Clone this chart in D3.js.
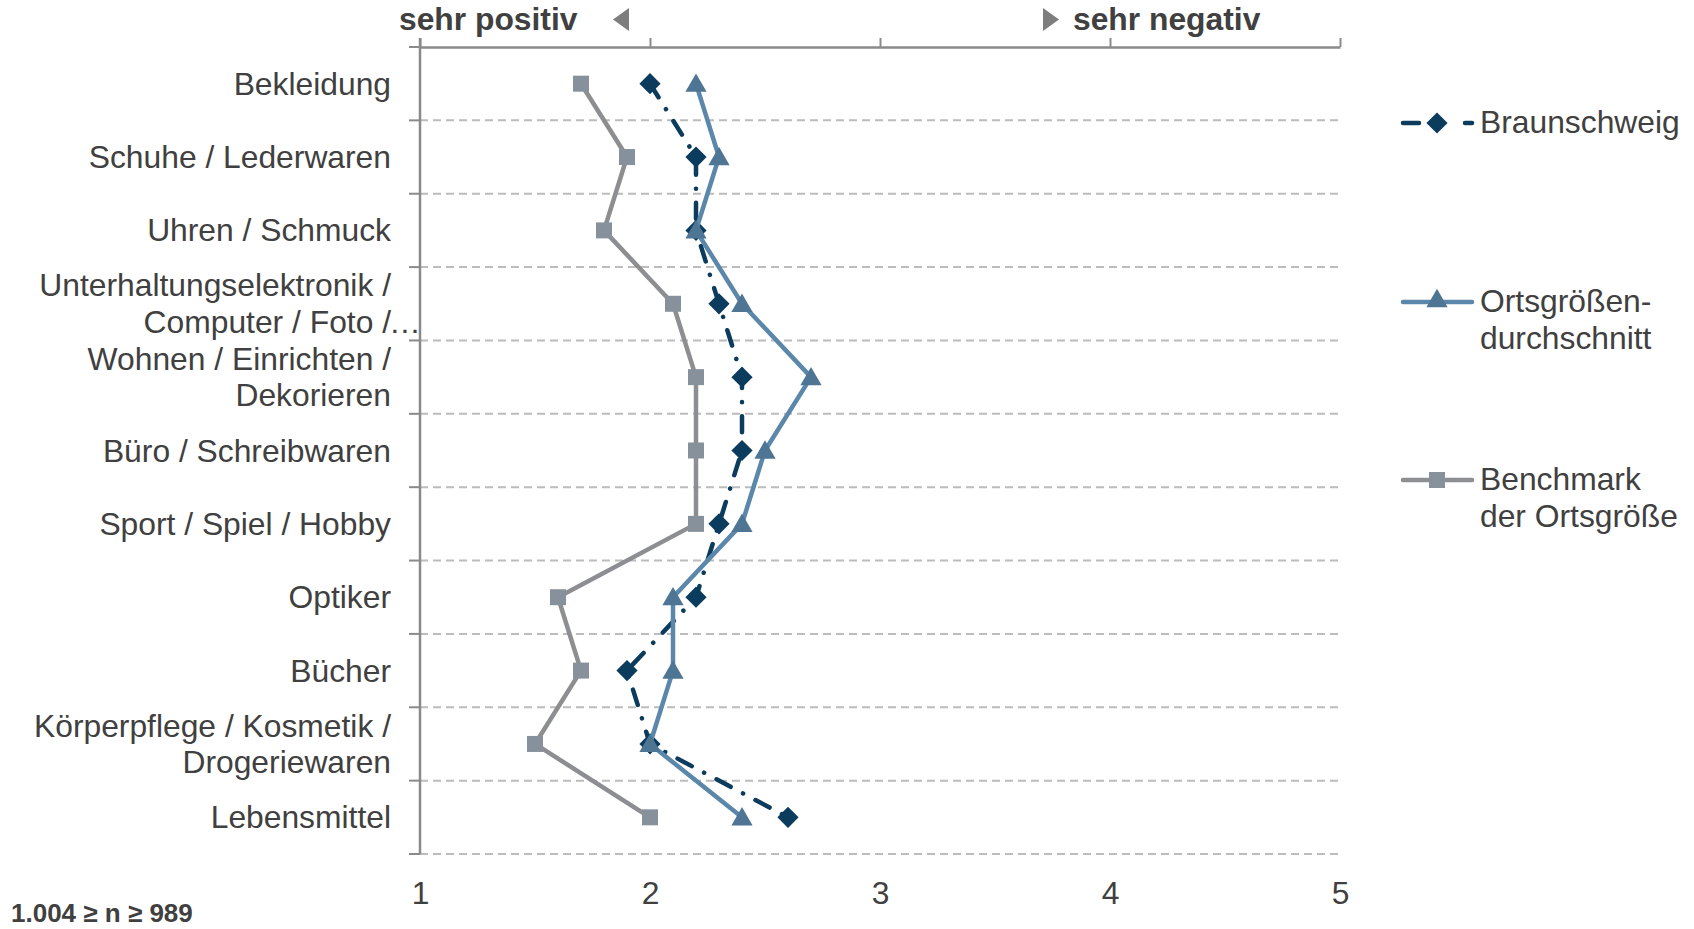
<!DOCTYPE html>
<html><head><meta charset="utf-8">
<script src="https://cdn.jsdelivr.net/npm/d3@7"></script>
<style>
html,body{margin:0;padding:0;background:#fff;}
svg text{font-family:"Liberation Sans",Arial,sans-serif;fill:#404040;}
</style></head>
<body>
<svg id="chart" width="1694" height="929"></svg>
<script>
const categories = [
  ["Bekleidung"],
  ["Schuhe / Lederwaren"],
  ["Uhren / Schmuck"],
  ["Unterhaltungselektronik /", "Computer / Foto /…"],
  ["Wohnen / Einrichten /", "Dekorieren"],
  ["Büro / Schreibwaren"],
  ["Sport / Spiel / Hobby"],
  ["Optiker"],
  ["Bücher"],
  ["Körperpflege / Kosmetik /", "Drogeriewaren"],
  ["Lebensmittel"]
];
const braunschweig   = [2.0, 2.2, 2.2, 2.3, 2.4, 2.4, 2.3, 2.2, 1.9, 2.0, 2.6];
const ortsgroesse    = [2.2, 2.3, 2.2, 2.4, 2.7, 2.5, 2.4, 2.1, 2.1, 2.0, 2.4];
const benchmark      = [1.7, 1.9, 1.8, 2.1, 2.2, 2.2, 2.2, 1.6, 1.7, 1.5, 2.0];
const xTicks = [1, 2, 3, 4, 5];
const seriesNames = [["Braunschweig"], ["Ortsgrößen-", "durchschnitt"], ["Benchmark", "der Ortsgröße"]];

const svg = d3.select("#chart");
const FS = 31.8;
const axisCol = "#8a8a8a";

const x = d3.scaleLinear().domain([1, 5]).range([420, 1340]);
const catIdx = categories.map((c, i) => i);
const y = d3.scaleBand().domain(catIdx).range([47, 854]).padding(0);
const yc = i => y(i) + y.bandwidth() / 2;

// gridlines (dashed) at band boundaries
const bounds = d3.range(categories.length + 1).map(k => 47 + k * y.bandwidth());
svg.append("g").selectAll("line").data(bounds.slice(1)).join("line")
  .attr("x1", 420).attr("x2", 1340).attr("y1", d => d).attr("y2", d => d)
  .attr("stroke", "#bcbcbc").attr("stroke-width", 2).attr("stroke-dasharray", "8,5");
// left ticks
svg.append("g").selectAll("line").data(bounds).join("line")
  .attr("x1", 409).attr("x2", 420).attr("y1", d => d).attr("y2", d => d)
  .attr("stroke", axisCol).attr("stroke-width", 2);

// top axis
const topAxis = svg.append("g").attr("transform", "translate(0,47)")
  .call(d3.axisTop(x).tickValues(xTicks).tickSize(9).tickFormat("").tickSizeOuter(0));
topAxis.select(".domain").attr("stroke", axisCol).attr("stroke-width", 2.5);
topAxis.selectAll(".tick line").attr("stroke", axisCol).attr("stroke-width", 2);

// y axis line
svg.append("line").attr("x1", 420).attr("x2", 420).attr("y1", 38).attr("y2", 854)
  .attr("stroke", axisCol).attr("stroke-width", 2.5);

// bottom labels
const botAxis = svg.append("g").attr("transform", "translate(0,854)")
  .call(d3.axisBottom(x).tickValues(xTicks).tickSize(0).tickPadding(27).tickFormat(d3.format("d")));
botAxis.select(".domain").remove();
botAxis.selectAll("text").style("font-size", FS + "px").attr("fill", "#404040")
  .style("font-family", "'Liberation Sans',Arial,sans-serif");

// category labels
const lh = 36.7;
const labG = svg.append("g");
categories.forEach((lines, i) => {
  const c = yc(i);
  const n = lines.length;
  lines.forEach((t, j) => {
    const base = c + 11 + (j - (n - 1) / 2) * lh;
    if (t.endsWith("…")) {
      labG.append("text").attr("x", 391).attr("y", base).attr("text-anchor", "end")
        .style("font-size", FS + "px").text(t.slice(0, -1));
      labG.append("text").attr("x", 389).attr("y", base).attr("text-anchor", "start")
        .style("font-size", FS + "px").text("…");
    } else {
      labG.append("text").attr("x", 391).attr("y", base).attr("text-anchor", "end")
        .style("font-size", FS + "px").text(t);
    }
  });
});

// header
svg.append("text").attr("x", 399).attr("y", 30).style("font-size", FS + "px")
  .style("font-weight", "bold").text("sehr positiv");
svg.append("text").attr("x", 1073).attr("y", 30).style("font-size", FS + "px")
  .style("font-weight", "bold").text("sehr negativ");
svg.append("path").attr("d", "M613,19.5L629,8L629,31Z").attr("fill", "#7d7d7d");
svg.append("path").attr("d", "M1059,19.5L1043,8L1043,31Z").attr("fill", "#7d7d7d");

// footnote
svg.append("text").attr("x", 11).attr("y", 922).style("font-size", "26px")
  .style("font-weight", "bold").text("1.004 ≥ n ≥ 989");

// series
const line = d3.line().x(d => x(d[0])).y(d => yc(d[1]));
const pts = arr => arr.map((v, i) => [v, i]);

const squareSym = d3.symbol().type(d3.symbolSquare).size(256);
const diamondSym = d3.symbol().type(d3.symbolSquare).size(225);
const triSym = d3.symbol().type(d3.symbolTriangle).size(195);

// Benchmark
svg.append("path").attr("d", line(pts(benchmark))).attr("fill", "none")
  .attr("stroke", "#8d8e92").attr("stroke-width", 4.5).attr("stroke-linejoin", "round");
svg.append("g").selectAll("path").data(pts(benchmark)).join("path")
  .attr("d", squareSym).attr("transform", d => `translate(${x(d[0])},${yc(d[1])})`)
  .attr("fill", "#87919b");

// Braunschweig
svg.append("path").attr("d", line(pts(braunschweig))).attr("fill", "none")
  .attr("stroke", "#0b3c5d").attr("stroke-width", 4.5).attr("stroke-linecap", "round")
  .attr("stroke-dasharray", "16,14,0.1,14");
svg.append("g").selectAll("path").data(pts(braunschweig)).join("path")
  .attr("d", diamondSym).attr("transform", d => `translate(${x(d[0])},${yc(d[1])}) rotate(45)`)
  .attr("fill", "#0b3c5d");

// Ortsgrößendurchschnitt
svg.append("path").attr("d", line(pts(ortsgroesse))).attr("fill", "none")
  .attr("stroke", "#5b87ab").attr("stroke-width", 4.5).attr("stroke-linejoin", "round");
svg.append("g").selectAll("path").data(pts(ortsgroesse)).join("path")
  .attr("d", triSym).attr("transform", d => `translate(${x(d[0])},${yc(d[1]) + 2})`)
  .attr("fill", "#4f7595");

// legend
const legY = [123, 302, 480];
const lg = svg.append("g");
// Braunschweig
lg.append("line").attr("x1", 1403).attr("x2", 1419).attr("y1", legY[0]).attr("y2", legY[0])
  .attr("stroke", "#0b3c5d").attr("stroke-width", 4.5).attr("stroke-linecap", "round");
lg.append("line").attr("x1", 1465).attr("x2", 1472).attr("y1", legY[0]).attr("y2", legY[0])
  .attr("stroke", "#0b3c5d").attr("stroke-width", 4.5).attr("stroke-linecap", "round");
lg.append("path").attr("d", diamondSym).attr("transform", `translate(1437,${legY[0]}) rotate(45)`)
  .attr("fill", "#0b3c5d");
// Ortsgrößen
lg.append("line").attr("x1", 1403).attr("x2", 1472).attr("y1", legY[1]).attr("y2", legY[1])
  .attr("stroke", "#5b87ab").attr("stroke-width", 4.5).attr("stroke-linecap", "round");
lg.append("path").attr("d", triSym).attr("transform", `translate(1437,${legY[1] - 1})`)
  .attr("fill", "#4f7595");
// Benchmark
lg.append("line").attr("x1", 1403).attr("x2", 1472).attr("y1", legY[2]).attr("y2", legY[2])
  .attr("stroke", "#8d8e92").attr("stroke-width", 4.5).attr("stroke-linecap", "round");
lg.append("path").attr("d", squareSym).attr("transform", `translate(1437,${legY[2]})`)
  .attr("fill", "#87919b");

seriesNames.forEach((lines, i) => {
  lines.forEach((t, j) => {
    lg.append("text").attr("x", 1480).attr("y", legY[i] + 10 + j * lh)
      .style("font-size", FS + "px").text(t);
  });
});
</script>
</body></html>
